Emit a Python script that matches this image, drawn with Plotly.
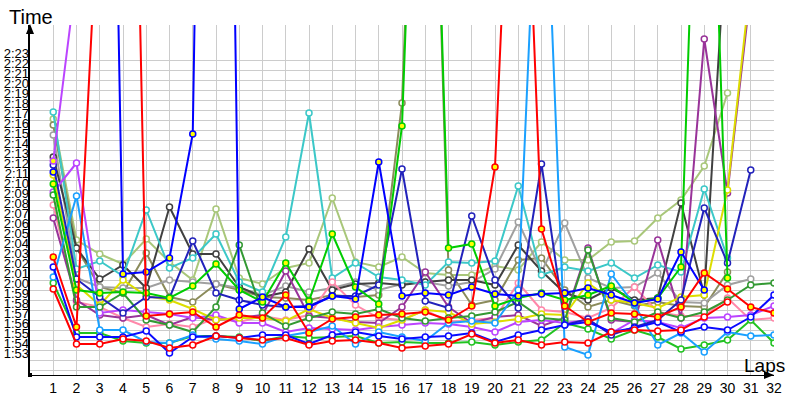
import plotly.graph_objects as go

# ---------------- data (lap times in seconds) ----------------
laps = list(range(1, 33))
lap_labels = [str(n) for n in laps]

grid_seconds = list(range(112, 144))
tick_seconds = list(range(113, 144))
tick_labels = ["1:53", "1:54", "1:55", "1:56", "1:57", "1:58", "1:59", "2:00",
               "2:01", "2:02", "2:03", "2:04", "2:05", "2:06", "2:07", "2:08",
               "2:09", "2:10", "2:11", "2:12", "2:13", "2:14", "2:15", "2:16",
               "2:17", "2:18", "2:19", "2:20", "2:21", "2:22", "2:23"]

light_olive = [137.1, 125.0, 123.6, 122.6, 125.1, 122.8, 121.0, 128.1, 121.2, 120.6, 122.2, 122.7,
               129.2, 122.8, 122.3, 123.3, 121.7, 121.5, 121.5, 122.4, 122.0, 124.8, 123.0, 123.0,
               124.8, 124.9, 127.2, 129.0, 132.4, 139.7]
olive = [136.5, 124.2, 120.3, 119.7, 123.7, 119.3, 118.8, 120.6, 120.0, 119.3, 119.2, 119.0,
         119.5, 119.3, 119.5, 138.7, 200.0, 122.0, 118.5, 119.0, 123.0, 123.2, 120.0, 118.3,
         119.0, 118.4, 118.8, 118.4, 118.3, 121.8]
gray = [135.5, 121.2, 120.3, 120.2, 120.2, 121.0, 120.8, 120.6, 120.2, 119.5, 120.4, 119.8,
        120.2, 120.8, 120.0, 120.6, 120.8, 120.4, 120.8, 122.1, 126.8, 121.8, 126.7, 121.2,
        120.2, 120.3, 121.7, 118.8, 118.7, 120.5, 121.1]
dark_gray = [133.3, 124.2, 121.1, 122.5, 120.2, 128.3, 123.6, 123.6, 120.3, 119.3, 119.8, 124.1,
             120.0, 120.6, 120.7, 120.5, 120.8, 121.0, 121.0, 120.5, 124.5, 121.9, 119.7, 119.0,
             120.2, 119.0, 119.2, 128.7, 119.5, 158.0]
cyan = [137.8, 122.1, 122.9, 121.4, 128.0, 122.2, 123.2, 125.6, 120.8, 119.8, 125.3, 137.7,
        121.2, 122.7, 121.3, 121.0, 120.5, 122.8, 122.7, 122.9, 130.4, 121.5, 122.3, 121.9,
        122.7, 121.2, 122.5, 121.8, 130.1, 123.2]
pink = [128.5, 118.8, 118.3, 117.2, 116.3, 116.6, 116.3, 117.2, 116.8, 117.4, 117.0, 117.5,
        120.8, 118.5, 117.2, 117.0, 118.0, 116.8, 117.0, 117.2, 120.7, 118.0, 117.8, 117.2,
        118.2, 120.3, 117.8, 117.4, 117.4, 119.2, 117.0, 117.2]
purple = [127.2, 119.0, 117.5, 117.2, 117.5, 116.5, 117.3, 117.0, 117.2, 117.5, 121.9, 117.4,
          117.2, 116.8, 116.7, 118.3, 121.8, 118.3, 116.7, 117.3, 117.5, 116.4, 117.2, 124.2,
          117.0, 116.8, 125.0, 117.2, 145.1, 129.7, 150.0]
violet = [129.8, 132.7, 117.7, 118.0, 117.8, 117.6, 117.2, 117.5, 116.7, 116.7, 115.8, 116.2,
          116.1, 116.0, 116.3, 116.5, 116.7, 116.6, 116.3, 115.8, 116.8, 117.0, 116.7, 117.0,
          115.7, 117.0, 116.8, 116.2, 117.2, 117.3, 117.5, 118.4]
yellow = [131.5, 120.5, 118.5, 121.0, 119.4, 119.0, 118.1, 117.0, 117.2, 117.2, 116.9, 118.1,
          117.2, 116.7, 116.2, 117.0, 118.0, 117.8, 116.6, 116.8, 117.1, 117.6, 117.5, 120.7,
          119.0, 118.7, 118.2, 119.3, 119.5, 130.0, 151.0]
dark_green = [129.5, 118.3, 118.3, 119.7, 117.0, 116.5, 115.8, 118.3, 124.5, 117.7, 116.4, 117.2,
              117.8, 117.6, 118.1, 117.2, 116.9, 117.2, 117.4, 117.8, 118.8, 117.2, 117.0, 124.0,
              117.2, 116.8, 117.8, 117.2, 117.8, 119.0, 120.5, 120.7]
green_open = [120.7, 115.7, 115.7, 114.9, 114.7, 114.7, 115.4, 115.4, 115.3, 114.9, 115.4, 115.2,
              115.3, 115.4, 114.7, 114.8, 114.7, 114.7, 114.8, 114.5, 114.8, 115.0, 116.7, 116.1,
              115.1, 116.0, 115.3, 114.1, 114.5, 115.0, 117.0, 114.7]
light_blue = [121.3, 129.4, 116.0, 116.0, 114.8, 114.7, 115.5, 115.1, 114.9, 114.6, 115.4, 115.8,
              116.4, 114.6, 115.8, 115.3, 114.9, 116.7, 116.9, 116.7, 120.0, 173.0, 114.3, 113.5,
              121.6, 118.5, 114.5, 115.7, 113.8, 115.8, 115.4, 115.5]
navy = [132.5, 121.1, 119.3, 117.7, 119.3, 119.2, 124.9, 119.7, 119.0, 118.5, 118.3, 118.4,
        119.4, 119.4, 120.5, 132.1, 118.9, 118.2, 127.4, 121.0, 118.2, 132.6, 116.5, 117.1,
        115.5, 116.3, 117.0, 119.0, 128.2, 122.7, 132.0]
blue_open = [122.3, 115.3, 115.3, 115.3, 115.9, 113.7, 115.3, 115.4, 115.2, 115.5, 115.5, 114.6,
             115.5, 115.8, 115.4, 115.1, 115.3, 115.4, 115.7, 114.8, 115.5, 116.0, 116.5, 116.8,
             115.8, 116.2, 116.8, 115.8, 116.3, 116.0, 117.3, 119.5]
red_open = [120.1, 114.6, 114.6, 115.1, 114.9, 114.2, 114.5, 115.4, 115.2, 115.0, 115.2, 114.5,
            114.9, 115.0, 114.7, 114.2, 114.4, 114.6, 115.6, 114.7, 115.0, 114.5, 114.8, 114.7,
            115.8, 116.0, 115.9, 116.0, 117.3, 118.8]
green_fill = [130.6, 120.0, 119.7, 119.8, 119.7, 119.2, 120.4, 122.6, 120.0, 118.8, 122.7, 118.9,
              125.6, 120.3, 118.6, 136.4, 200.0, 124.2, 124.6, 118.4, 119.2, 119.7, 119.0, 119.5,
              120.4, 118.7, 119.2, 122.3, 190.0, 121.2]
blue_fill = [131.8, None, 250.0, 121.6, 121.8, 123.2, 135.6, 280.0, 118.1, 119.3, 118.3, 118.3,
             119.4, 119.1, 132.8, 119.4, 119.7, 119.5, 120.3, 119.6, 119.4, 119.6, 119.7, 120.2,
             119.5, 118.7, 119.1, 123.8, 120.0]
red_fill = [123.3, 116.3, 162.0, 229.0, 117.4, 117.6, 117.8, 116.3, 117.5, 117.2, 119.5, 115.7,
            117.1, 117.3, 117.5, 117.6, 117.8, 117.0, 118.4, 132.3, 185.0, 126.1, 118.4, 116.8,
            117.7, 117.6, 117.3, 118.3, 121.7, 120.1, 118.3, 117.7]
violet_fill = [132.9, 151.5]

series = [
    (light_olive, "#a9c77a", False),
    (olive, "#8b8b5b", False),
    (gray, "#a0a0a0", False),
    (dark_gray, "#404040", False),
    (cyan, "#3cc8c8", False),
    (pink, "#ff88aa", False),
    (purple, "#993399", False),
    (violet, "#bb44ff", False),
    (yellow, "#dddd00", False),
    (dark_green, "#339933", False),
    (green_open, "#22c322", False),
    (light_blue, "#1aa0ff", False),
    (navy, "#2222bb", False),
    (blue_open, "#0a0aff", False),
    (red_open, "#ff0000", False),
    (green_fill, "#00cc00", True),
    (blue_fill, "#0000ff", True),
    (red_fill, "#ff0000", True),
    (violet_fill, "#bb44ff", True),
]

fig = go.Figure()
for vals, col, filled in series:
    fig.add_trace(go.Scatter(
        x=laps[:len(vals)], y=vals, mode="lines+markers",
        line=dict(color=col, width=2), connectgaps=False,
        marker=dict(size=6, color="#ffff00" if filled else "white",
                    line=dict(color=col, width=1.5)),
        hoverinfo="skip", showlegend=False))

# invisible trace for the label axis
fig.add_trace(go.Scatter(x=[None], y=[None], yaxis="y2", showlegend=False, hoverinfo="skip"))

YMIN, YMAX = 111.5, 146.5
font_family = "Liberation Sans, Arial, sans-serif"

fig.update_layout(
    width=800, height=400, autosize=False,
    margin=dict(l=30, r=26, t=25, b=25, autoexpand=False),
    paper_bgcolor="white", plot_bgcolor="white",
    showlegend=False,
    xaxis=dict(range=[0, 32], tickmode="array", tickvals=laps, ticktext=lap_labels,
               showgrid=True, gridcolor="#cccccc", gridwidth=1, zeroline=False,
               showline=True, linecolor="black", linewidth=1, ticks="", automargin=False,
               tickfont=dict(family=font_family, size=14, color="black"), fixedrange=True),
    yaxis=dict(range=[YMIN, YMAX], tickmode="array", tickvals=grid_seconds,
               showticklabels=False, showgrid=True, gridcolor="#cccccc", gridwidth=1,
               zeroline=False, showline=True, linecolor="black", linewidth=1.5, ticks="",
               automargin=False, fixedrange=True),
    yaxis2=dict(range=[YMIN, YMAX], overlaying="y", side="left", tickmode="array",
                tickvals=[t + 0.7 for t in tick_seconds], ticktext=tick_labels,
                showgrid=False, zeroline=False, showline=False, ticks="", automargin=False,
                tickfont=dict(family=font_family, size=13, color="black"), fixedrange=True),
)

W, H = 744.0, 350.0
def px(xp):
    return (xp - 30) / W
def py(yp):
    return (375 - yp) / H

shapes = [
    # y-axis arrowhead
    dict(type="path", xref="paper", yref="paper",
         path=f"M {px(30)} {py(24)} L {px(26)} {py(34)} L {px(34)} {py(34)} Z",
         fillcolor="black", line=dict(color="black", width=0)),
    # x-axis arrowhead
    dict(type="path", xref="paper", yref="paper",
         path=f"M {px(774)} {py(375)} L {px(764)} {py(371)} L {px(764)} {py(379)} Z",
         fillcolor="black", line=dict(color="black", width=0)),
    # origin dot
    dict(type="rect", xref="paper", yref="paper",
         x0=px(28), x1=px(32), y0=py(377), y1=py(373),
         fillcolor="black", line=dict(color="black", width=0)),
]
fig.update_layout(shapes=shapes)

fig.add_annotation(text="Time", xref="paper", yref="paper", x=px(7), y=py(17),
                   xanchor="left", yanchor="middle", showarrow=False,
                   font=dict(family=font_family, size=20, color="black"))
fig.add_annotation(text="Laps", xref="paper", yref="paper", x=px(742), y=py(365),
                   xanchor="left", yanchor="middle", showarrow=False,
                   font=dict(family=font_family, size=19, color="black"))

fig.write_html("out.html")
